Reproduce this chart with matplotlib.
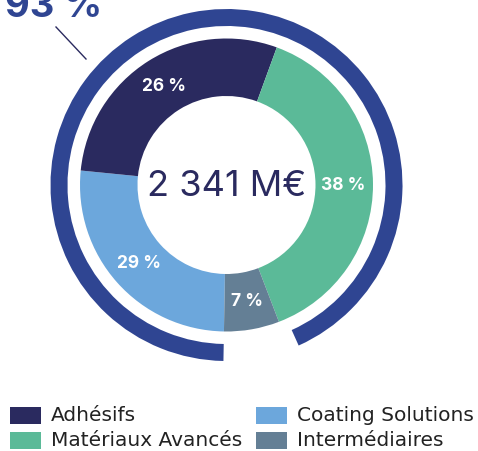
import matplotlib
matplotlib.use("Agg")
import matplotlib.pyplot as plt
import numpy as np

plt.rcParams['font.family'] = ['Inter', 'DejaVu Sans']

# segments, clockwise from the bottom
segments = ['Coating Solutions', 'Adhésifs', 'Matériaux Avancés', 'Intermédiaires']
shares = [26.3, 29.0, 38.6, 6.1]          # share of the ring as drawn
share_labels = ['29 %', '26 %', '38 %', '7 %']
seg_colors = ['#6ca7dc', '#2a2a5f', '#5bba98', '#647f95']

total_label = '2 341 M€'
outer_pct = 93
outer_label = '93 %'

legend_order = ['Adhésifs', 'Coating Solutions', 'Matériaux Avancés', 'Intermédiaires']

fig = plt.figure(figsize=(4.78, 4.52), dpi=100)
ax = fig.add_axes([0, 0, 1, 1])

cx, cy = 226.5, 266

wedges, _ = ax.pie(shares, colors=seg_colors, radius=146.5, center=(cx, cy),
                   startangle=-91, counterclock=False,
                   wedgeprops=dict(width=57.5, linewidth=0))

ax.pie([outer_pct, 100 - outer_pct], colors=['#2f4592', 'none'], radius=176,
       center=(cx, cy), startangle=-91, counterclock=False,
       wedgeprops=dict(width=17, linewidth=0))

for w, lab in zip(wedges, share_labels):
    mid = np.deg2rad((w.theta1 + w.theta2) / 2)
    ax.text(cx + 117 * np.cos(mid), cy + 117 * np.sin(mid), lab,
            ha='center', va='center', color='white', fontsize=12.5,
            fontweight='bold')

ax.text(cx, cy, total_label, ha='center', va='center', color='#2a2a5f',
        fontsize=26)

ax.text(54, 452 - 7, outer_label, ha='center', va='center', color='#2f4592',
        fontsize=27.5, fontweight='bold')
ax.plot([56, 86], [452 - 28, 452 - 60], color='#2a2a5f', lw=1)

# legend
col_x = [10, 256]
row_y = [416, 441]
for i, name in enumerate(legend_order):
    x = col_x[i % 2]
    y = 452 - row_y[i // 2]
    ax.add_patch(plt.Rectangle((x, y - 8.5), 31, 17,
                               color=seg_colors[segments.index(name)], lw=0))
    ax.text(x + 41, y, name, ha='left', va='center', color='#222222',
            fontsize=14.5, family='DejaVu Sans')

ax.set_xlim(0, 478)
ax.set_ylim(0, 452)
ax.set_aspect('auto')
ax.axis('off')

fig.savefig('out.png', dpi=100)
